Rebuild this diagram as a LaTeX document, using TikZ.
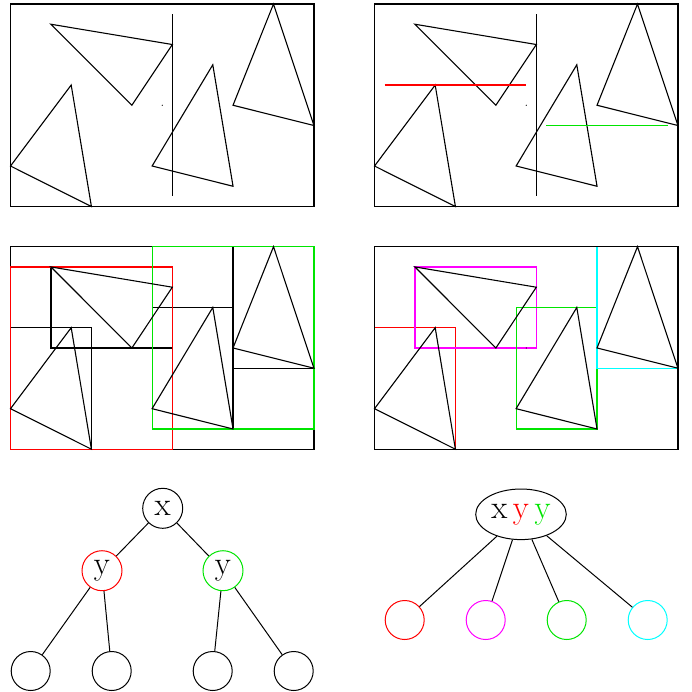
\documentclass[tikz,border=0pt]{standalone}
\usetikzlibrary{shapes.geometric}
\definecolor{grn}{rgb}{0,0.9,0}
\definecolor{cyn}{rgb}{0,1,1}
\definecolor{mag}{rgb}{1,0,1}
\tikzset{
  ln/.style={line width=0.55pt},
  frame/.style={ln,draw=black},
  tri/.style={ln,draw=black,line join=miter},
  circ/.style={circle,draw,line width=0.5pt,minimum size=20pt,inner sep=0pt,font=\fontsize{16.5}{20}\selectfont},
  leaf/.style={circle,draw,line width=0.5pt,minimum size=19.5pt,inner sep=0pt},
  edge/.style={line width=0.5pt},
}
\newcommand\drawtris{%
  \draw[tri] (2,1) -- (8,2) -- (6,5) -- cycle;
  \draw[tri] (0,8) -- (3,4) -- (4,10) -- cycle;
  \draw[tri] (7,8) -- (10,3) -- (11,9) -- cycle;
  \draw[tri] (11,5) -- (13,0) -- (15,6) -- cycle;
  \fill (7.5,5) circle[radius=0.3pt];
}
\begin{document}
\begin{tikzpicture}[x=0.5pt,y=-0.5pt]
\useasboundingbox (0,0) rectangle (692,692);
% panel 1
\begin{scope}[shift={(10.5,4)},x=10.115pt,y=-10.125pt]
  \draw[frame] (0,0) rectangle (15,10);
  \drawtris
  \draw[ln] (8,0.5) -- (8,9.5);
\end{scope}
% panel 2
\begin{scope}[shift={(374.5,4)},x=10.115pt,y=-10.125pt]
  \draw[frame] (0,0) rectangle (15,10);
  \drawtris
  \draw[ln] (8,0.5) -- (8,9.5);
  \draw[ln,red] (0.5,4) -- (7.5,4);
  \draw[ln,grn] (8.5,6) -- (14.5,6);
\end{scope}
% panel 3
\begin{scope}[shift={(10.5,246.7)},x=10.115pt,y=-10.125pt]
  \draw[frame] (0,0) rectangle (15,10);
  \draw[ln] (2,1) rectangle (8,5);
  \draw[ln] (0,4) rectangle (4,10);
  \draw[ln] (7,3) rectangle (11,9);
  \draw[ln] (11,0) rectangle (15,6);
  \draw[ln,red] (0,1) rectangle (8,10);
  \draw[ln,grn] (7,0) rectangle (15,9);
  \drawtris
\end{scope}
% panel 4
\begin{scope}[shift={(374.5,246.7)},x=10.115pt,y=-10.125pt]
  \draw[ln,red] (0,4) rectangle (4,10);
  \draw[ln,mag] (2,1) rectangle (8,5);
  \draw[ln,grn] (7,3) rectangle (11,9);
  \draw[ln,cyn] (11,0) rectangle (15,6);
  \draw[frame] (0,0) rectangle (15,10);
  \drawtris
\end{scope}
% tree left
\node[circ] (x) at (162.7,508.3) {x};
\node[circ,draw=red] (ya) at (102,570.7) {y};
\node[circ,draw=grn] (yb) at (223,570.7) {y};
\node[leaf] (l1) at (30.7,671) {};
\node[leaf] (l2) at (111.7,671) {};
\node[leaf] (l3) at (212.7,671) {};
\node[leaf] (l4) at (293.7,671) {};
\draw[edge] (x) -- (ya);
\draw[edge] (x) -- (yb);
\draw[edge] (ya) -- (l1);
\draw[edge] (ya) -- (l2);
\draw[edge] (yb) -- (l3);
\draw[edge] (yb) -- (l4);
% tree right
\node[ellipse,draw,line width=0.5pt,minimum width=45.3pt,minimum height=25.3pt,inner sep=0pt,font=\fontsize{16.5}{20}\selectfont] (r) at (521,514.3) {x\,\textcolor{red}{y}\,\textcolor{grn}{y}};
\node[leaf,draw=red] (m1) at (404.7,620) {};
\node[leaf,draw=mag] (m2) at (485.7,620) {};
\node[leaf,draw=grn] (m3) at (566.7,620) {};
\node[leaf,draw=cyn] (m4) at (647.7,620) {};
\draw[edge] (r) -- (m1);
\draw[edge] (r) -- (m2);
\draw[edge] (r) -- (m3);
\draw[edge] (r) -- (m4);
\end{tikzpicture}
\end{document}
